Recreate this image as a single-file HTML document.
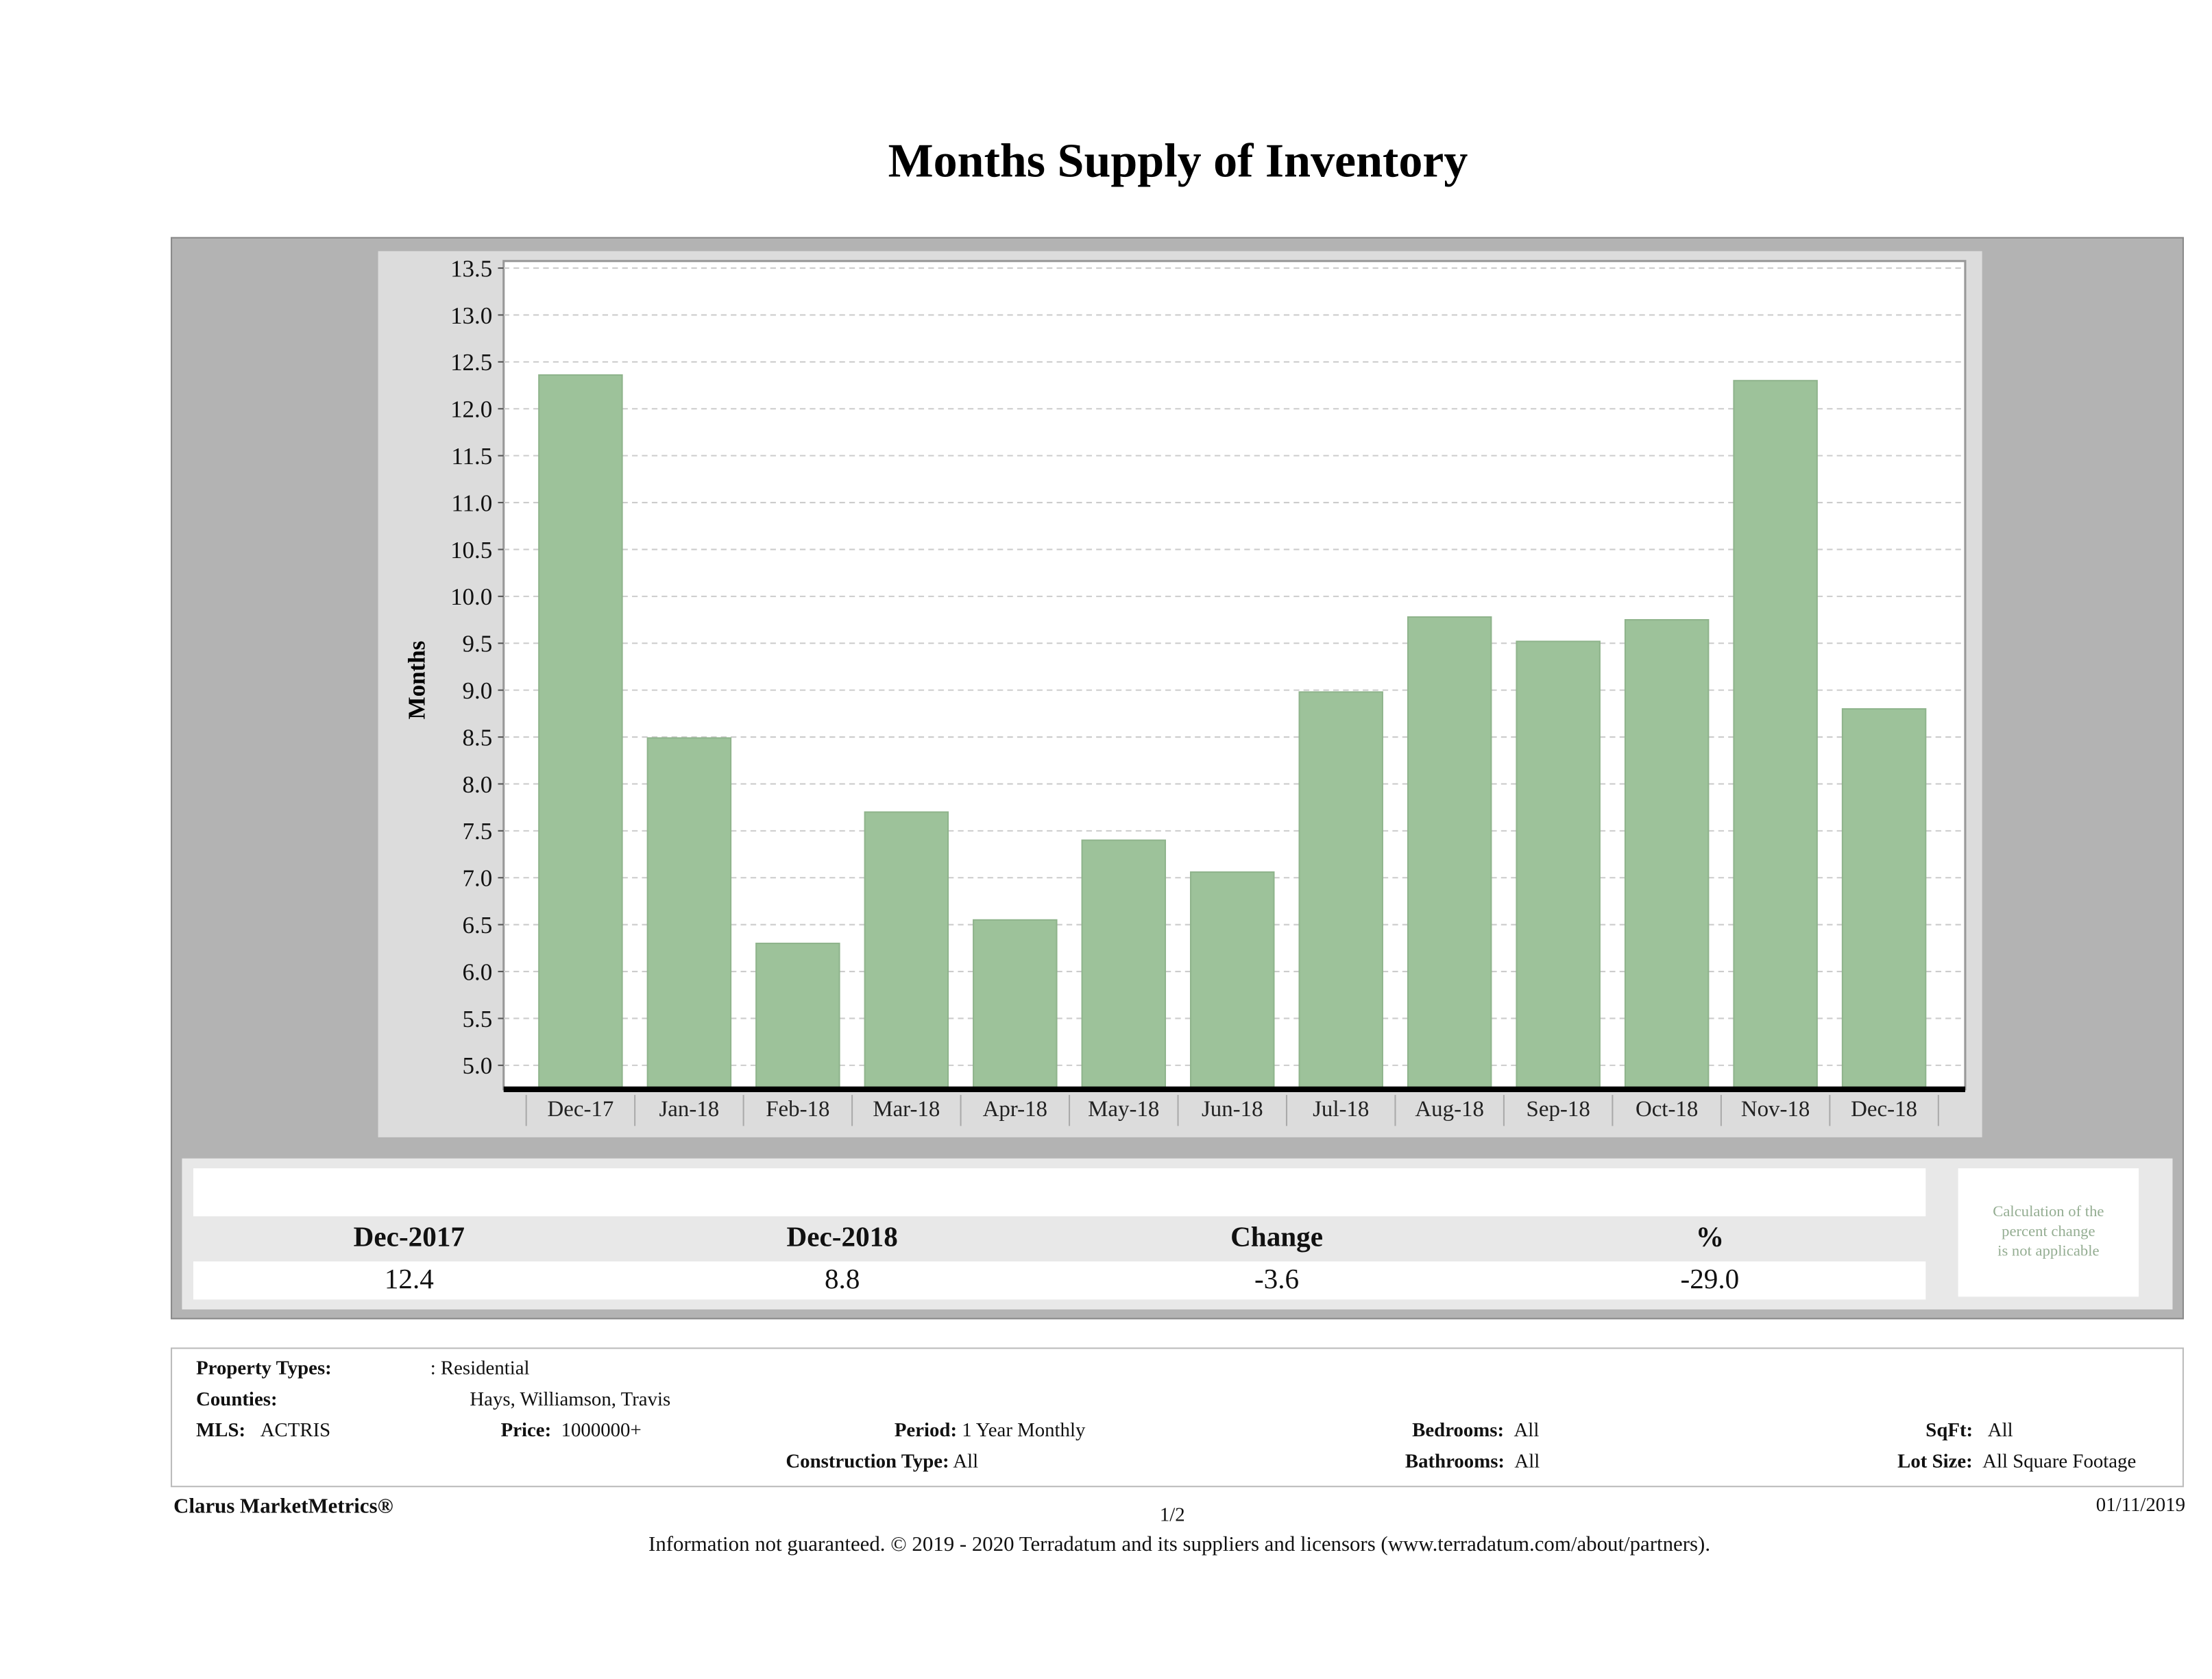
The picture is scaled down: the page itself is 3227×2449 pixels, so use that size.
<!DOCTYPE html>
<html><head><meta charset="utf-8">
<style>
html,body{margin:0;padding:0;background:#fff;}
body{width:3227px;height:2448px;overflow:hidden;position:relative;font-family:"Liberation Serif",serif;}
#s{position:absolute;left:0;top:0;width:1568px;height:1190px;transform:scale(2.0581);transform-origin:0 0;}
.a{position:absolute;}
.t{position:absolute;white-space:nowrap;font-size:14px;color:#111;}
.b{font-weight:bold;}
</style></head><body>
<div id="s">
<div class="a" style="left:0;width:1670px;top:96px;text-align:center;font-size:34px;font-weight:bold;">Months Supply of Inventory</div>
<div class="a" style="left:121px;top:168px;width:1427px;height:767px;background:#b3b3b3;border:1px solid #8a8a8a;box-sizing:border-box;"></div>
<div class="a" style="left:268px;top:178px;width:1137px;height:628px;background:#dcdcdc;"></div>
<svg class="a" style="left:0;top:0" width="1568" height="1190" id="chart"></svg>
<div class="a" style="left:129px;top:821px;width:1411px;height:107px;background:#e8e8e8;"></div>
<div class="a" style="left:137px;top:828px;width:1228px;height:34px;background:#fff;"></div>
<div class="a" style="left:137px;top:894px;width:1228px;height:27px;background:#fff;"></div>
<div class="t b" style="left:190px;width:200px;text-align:center;top:866px;font-size:20px;">Dec-2017</div>
<div class="t b" style="left:497px;width:200px;text-align:center;top:866px;font-size:20px;">Dec-2018</div>
<div class="t b" style="left:805px;width:200px;text-align:center;top:866px;font-size:20px;">Change</div>
<div class="t b" style="left:1112px;width:200px;text-align:center;top:866px;font-size:20px;">%</div>
<div class="t" style="left:190px;width:200px;text-align:center;top:896px;font-size:20px;">12.4</div>
<div class="t" style="left:497px;width:200px;text-align:center;top:896px;font-size:20px;">8.8</div>
<div class="t" style="left:805px;width:200px;text-align:center;top:896px;font-size:20px;">-3.6</div>
<div class="t" style="left:1112px;width:200px;text-align:center;top:896px;font-size:20px;">-29.0</div>
<div class="a" style="left:1388px;top:828px;width:128px;height:91px;background:#fff;"></div>
<div class="a" style="left:1388px;top:852px;width:128px;text-align:center;font-size:11px;line-height:14px;color:#94ad92;">Calculation of the<br>percent change<br>is not applicable</div>
<div class="a" style="left:121px;top:955px;width:1427px;height:99px;border:1px solid #bbb;box-sizing:border-box;background:#fff;"></div>
<div class="t b" style="left:139px;top:963px;">Property Types:</div>
<div class="t" style="left:305px;top:963px;">: Residential</div>
<div class="t b" style="left:139px;top:985px;">Counties:</div>
<div class="t" style="left:333px;top:985px;">Hays, Williamson, Travis</div>
<div class="t" style="left:139px;top:1007px;"><b>MLS:</b>&nbsp;&nbsp;&nbsp;ACTRIS</div>
<div class="t" style="left:355px;top:1007px;"><b>Price:</b>&nbsp;&nbsp;1000000+</div>
<div class="t" style="left:634px;top:1007px;"><b>Period:</b>&nbsp;1 Year Monthly</div>
<div class="t" style="left:1001px;top:1007px;"><b>Bedrooms:</b>&nbsp;&nbsp;All</div>
<div class="t" style="left:1365px;top:1007px;"><b>SqFt:</b>&nbsp;&nbsp;&nbsp;All</div>
<div class="t" style="left:557px;top:1029px;"><b>Construction Type:</b> All</div>
<div class="t" style="left:996px;top:1029px;"><b>Bathrooms:</b>&nbsp;&nbsp;All</div>
<div class="t" style="left:1345px;top:1029px;"><b>Lot Size:</b>&nbsp;&nbsp;All Square Footage</div>
<div class="t b" style="left:123px;top:1060px;font-size:15px;">Clarus MarketMetrics®</div>
<div class="t" style="left:800px;width:62px;text-align:center;top:1067px;">1/2</div>
<div class="t" style="left:1450px;width:99px;text-align:right;top:1060px;">01/11/2019</div>
<div class="t" style="left:0;width:1672px;text-align:center;top:1087px;font-size:15px;">Information not guaranteed. © 2019 - 2020 Terradatum and its suppliers and licensors (www.terradatum.com/about/partners).</div>
</div>
<script>
const categories=["Dec-17","Jan-18","Feb-18","Mar-18","Apr-18","May-18","Jun-18","Jul-18","Aug-18","Sep-18","Oct-18","Nov-18","Dec-18"];
const values=[12.36,8.49,6.3,7.7,6.55,7.4,7.06,8.98,9.78,9.52,9.75,12.3,8.8];
const yTicks=[5.0,5.5,6.0,6.5,7.0,7.5,8.0,8.5,9.0,9.5,10.0,10.5,11.0,11.5,12.0,12.5,13.0,13.5];
const NS="http://www.w3.org/2000/svg";
const svg=document.getElementById('chart');
const PL=357,PR=1393,PT=185,PB=772;
function y(v){return 755-(v-5.0)*(565/8.5);}
function xc(i){return 411.5+77*i;}
function mk(t,a){const e=document.createElementNS(NS,t);for(const k in a)e.setAttribute(k,a[k]);svg.appendChild(e);return e;}
let e=mk('rect',{x:PL,y:PT,width:PR-PL,height:PB-PT,fill:'#fff',stroke:'#999','stroke-width':1.5});


yTicks.forEach(v=>{
  let g=mk('line',{x1:PL,x2:PR,y1:y(v),y2:y(v),stroke:'#ccc','stroke-dasharray':'4,3','stroke-width':1});
  
  
  let tk=mk('line',{x1:PL-4,x2:PL,y1:y(v),y2:y(v),stroke:'#555'});
  
  
  let t=mk('text',{x:PL-8,y:y(v)+6,'text-anchor':'end','font-size':17,'font-family':'Liberation Serif, serif',fill:'#111'});
  t.textContent=v.toFixed(1);
  
  
});
values.forEach((v,i)=>{
  let r=mk('rect',{x:xc(i)-29.5,y:y(v),width:59,height:PB-y(v),fill:'#9dc29a',stroke:'#8fb48c','stroke-width':1});
  
  
});
categories.forEach((c,i)=>{
  let s=mk('line',{x1:xc(i)-38.5,x2:xc(i)-38.5,y1:PB+4,y2:PB+26,stroke:'#aaa'});
  
  
  let t=mk('text',{x:xc(i),y:PB+19,'text-anchor':'middle','font-size':16,'font-family':'Liberation Serif, serif',fill:'#222'});
  t.textContent=c;
  
  
});
let ls=mk('line',{x1:xc(12)+38.5,x2:xc(12)+38.5,y1:PB+4,y2:PB+26,stroke:'#aaa'});


let ax=mk('line',{x1:PL,x2:PR,y1:PB,y2:PB,stroke:'#000','stroke-width':4});


let yl=mk('text',{x:0,y:0,transform:'translate(301,482) rotate(-90)','text-anchor':'middle','font-size':17,'font-weight':'bold','font-family':'Liberation Serif, serif'});
yl.textContent='Months';


</script>
</body></html>
